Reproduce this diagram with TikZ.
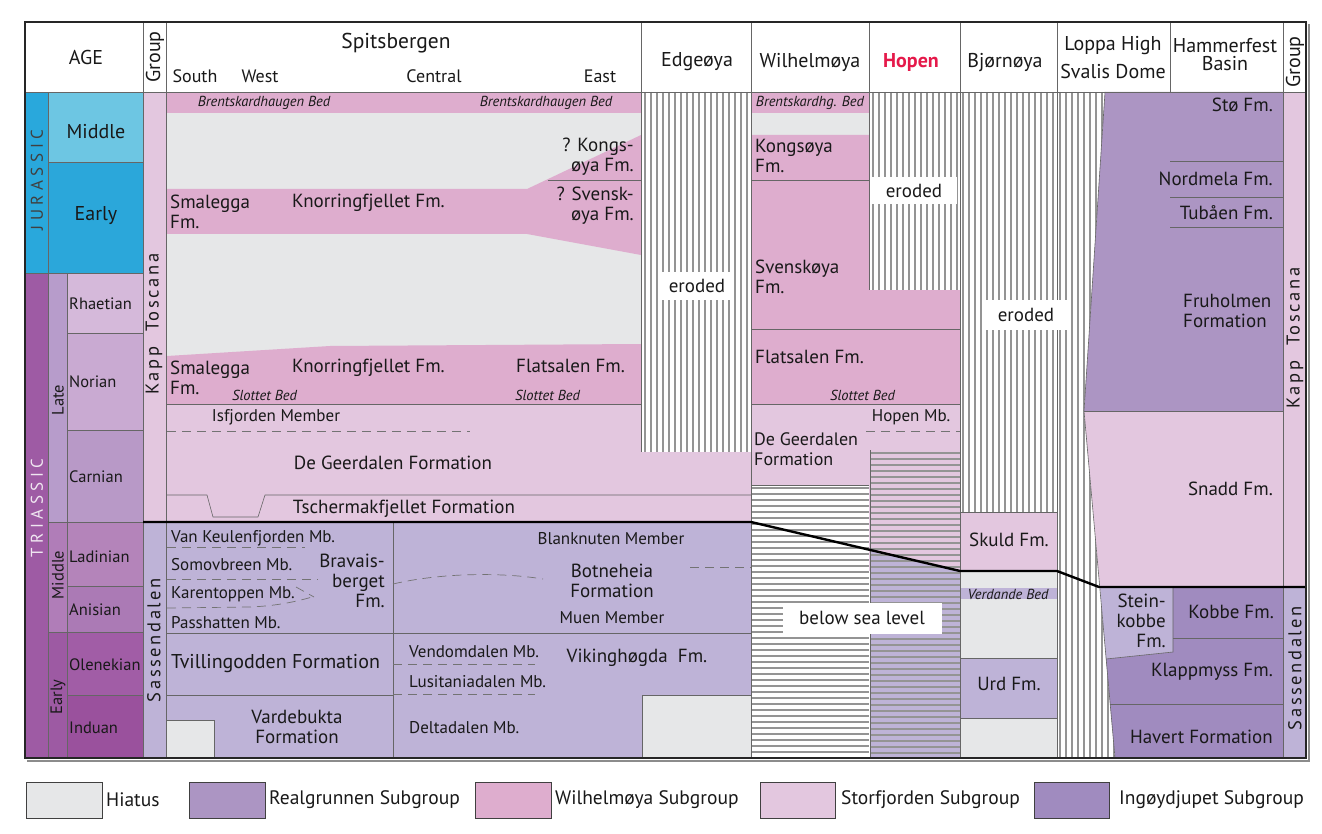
\documentclass[tikz,border=0pt]{standalone}
\usepackage{fontspec}
\setmainfont{PT Sans}
\newfontfamily\grpfont[LetterSpace=14]{PT Sans}
\definecolor{jurstrip}{HTML}{29A8DC}
\definecolor{jurmid}{HTML}{6DC6E3}
\definecolor{jurearly}{HTML}{2BA7DA}
\definecolor{tristrip}{HTML}{9E5BA4}
\definecolor{lateser}{HTML}{B79CCB}
\definecolor{rhae}{HTML}{D5B9DA}
\definecolor{nori}{HTML}{C9AAD2}
\definecolor{carn}{HTML}{B899C7}
\definecolor{midser}{HTML}{B07DB8}
\definecolor{ladi}{HTML}{B484BA}
\definecolor{anis}{HTML}{AB7AB5}
\definecolor{earlyser}{HTML}{9D5AA3}
\definecolor{olen}{HTML}{A15DA6}
\definecolor{indu}{HTML}{9A519D}
\definecolor{hiatus}{HTML}{E6E7E8}
\definecolor{realg}{HTML}{AC95C3}
\definecolor{wilhc}{HTML}{DEADCE}
\definecolor{storf}{HTML}{E3C7DF}
\definecolor{ingoy}{HTML}{A08BBF}
\definecolor{sass}{HTML}{BEB3D7}
\definecolor{hopenred}{HTML}{E5194A}
\tikzset{
  cell/.style={draw=black!60, line width=0.6pt},
  unit/.style={draw=black!60, line width=0.6pt},
  mbline/.style={draw=black!55, line width=0.7pt, dash pattern=on 9pt off 6pt},
  vhatch/.style={draw=black!42, line width=1.3pt},
  hhatch/.style={draw=black!42, line width=1.2pt},
  boundary/.style={draw=black, line width=2.4pt},
  key/.style={draw=black!75, line width=1pt},
  hdr/.style={font=\fontsize{20}{18}\selectfont, text=black!90},
  sub/.style={font=\fontsize{18}{20}\selectfont, text=black!90},
  stg/.style={font=\fontsize{16.5}{18}\selectfont, text=black!90},
  sys/.style={font=\fontsize{17}{18}\selectfont},
  grp/.style={font=\grpfont\fontsize{18.5}{20}\selectfont, text=black!90},
  fm/.style={font=\fontsize{19}{20}\selectfont, text=black!90},
  big/.style={font=\fontsize{20}{22}\selectfont, text=black!90},
  mb/.style={font=\fontsize{17}{19}\selectfont, text=black!90},
  bed/.style={font=\fontsize{14.5}{16}\selectfont\itshape, text=black!90},
  leg/.style={font=\fontsize{19.5}{21}\selectfont, text=black!90},
  erodebox/.style={fill=white, font=\fontsize{19}{20}\selectfont, text=black!90}
}
\begin{document}
\begin{tikzpicture}[x=1pt,y=-1pt]
\tikzstyle{every node}+=[inner sep=0pt]
\useasboundingbox (0,0) rectangle (1322,834);
\fill[white] (0,0) rectangle (1322,834);
\filldraw[cell, fill=jurstrip] (25,92) rectangle (48,273);
\filldraw[cell, fill=jurmid] (48,92) rectangle (143,162);
\filldraw[cell, fill=jurearly] (48,162) rectangle (143,273);
\filldraw[cell, fill=tristrip] (25,273) rectangle (48,758);
\filldraw[cell, fill=lateser] (48,273) rectangle (67,522);
\filldraw[cell, fill=rhae] (67,273) rectangle (143,333);
\filldraw[cell, fill=nori] (67,333) rectangle (143,430);
\filldraw[cell, fill=carn] (67,430) rectangle (143,522);
\filldraw[cell, fill=midser] (48,522) rectangle (67,632);
\filldraw[cell, fill=ladi] (67,522) rectangle (143,586);
\filldraw[cell, fill=anis] (67,586) rectangle (143,632);
\filldraw[cell, fill=earlyser] (48,632) rectangle (67,758);
\filldraw[cell, fill=olen] (67,632) rectangle (143,695);
\filldraw[cell, fill=indu] (67,695) rectangle (143,758);
\filldraw[cell, fill=storf] (143,92) rectangle (166,522);
\filldraw[cell, fill=sass] (143,522) rectangle (166,758);
\filldraw[cell, fill=storf] (1283,92) rectangle (1306,587);
\filldraw[cell, fill=sass] (1283,587) rectangle (1306,758);
\fill[hiatus] (167,92) rectangle (641,404);
\fill[wilhc] (167,92) rectangle (641,113);
\fill[wilhc] (167,189) -- (527,189) -- (641,135) -- (641,255) -- (527,234) -- (167,234) -- cycle;
\fill[wilhc] (167,356) -- (330,346) -- (641,344) -- (641,404) -- (167,404) -- cycle;
\fill[storf] (167,404) rectangle (751,522);
\fill[sass] (167,522) rectangle (751,758);
\fill[hiatus] (167,720) rectangle (214,758);
\fill[hiatus] (642,695) rectangle (751,758);
\fill[white] (642,92) rectangle (751,452);
\foreach \x in {645,651,...,750}
  \draw[vhatch] (\x,92) -- (\x,452);
\fill[wilhc] (752,92) rectangle (869,113);
\fill[hiatus] (752,113) rectangle (869,135);
\fill[wilhc] (752,135) -- (869,135) -- (869,290) -- (960,290) -- (960,404) -- (752,404) -- cycle;
\fill[white] (870,92) rectangle (960,290);
\foreach \x in {873,879,...,958}
  \draw[vhatch] (\x,92) -- (\x,290);
\fill[storf] (752,404) rectangle (960,571);
\fill[white] (752,485) rectangle (869,758);
\fill[sass] (870,550) -- (960,571) -- (960,758) -- (870,758) -- cycle;
\foreach \y in {488,494,...,756}
  \draw[hhatch] (752,\y) -- (869,\y);
\foreach \y in {453,459,...,756}
  \draw[hhatch] (870,\y) -- (960,\y);
\fill[white] (960,92) rectangle (1057,512);
\foreach \x in {963,969,...,1056}
  \draw[vhatch] (\x,92) -- (\x,512);
\fill[storf] (960,512) rectangle (1057,571);
\fill[hiatus] (960,571) rectangle (1057,758);
\fill[sass] (960,588) rectangle (1057,599);
\fill[sass] (960,658) rectangle (1057,718);
\begin{scope}
\clip (1057,92) -- (1105,92) -- (1084,411) -- (1115,758) -- (1057,758) -- cycle;
\fill[white] (1057,92) rectangle (1120,758);
\foreach \x in {1060,1066,...,1116}
  \draw[vhatch] (\x,92) -- (\x,758);
\end{scope}
\fill[realg] (1105,92) -- (1283,92) -- (1283,411) -- (1084,411) -- cycle;
\fill[storf] (1084,411) -- (1283,411) -- (1283,587) -- (1100,587) -- cycle;
\fill[sass] (1100,587) -- (1173,587) -- (1173,652) -- (1106,659) -- cycle;
\fill[ingoy] (1173,587) -- (1283,587) -- (1283,758) -- (1115,758) -- (1106,659) -- (1173,652) -- cycle;
\draw[unit] (548,180) -- (641,180);
\draw[unit] (167,404) -- (641,404);
\draw[mbline] (167,431) -- (470,431);
\draw[unit] (167,495) -- (207,495) -- (213,517) -- (258,517) -- (265,495) -- (751,495);
\draw[unit] (393,522) -- (393,758);
\draw[unit] (167,633) -- (751,633);
\draw[unit] (167,695) -- (393,695);
\draw[unit] (167,720) -- (214,720) -- (214,758);
\draw[unit] (642,758) -- (642,695) -- (751,695);
\draw[mbline] (167,547) -- (305,547);
\draw[mbline] (167,579) -- (318,579);
\draw[mbline] (167,608) -- (250,607) .. controls (275,606) and (295,602) .. (312,597);
\draw[mbline] (296,587) -- (314,597);
\draw[mbline] (393,584) .. controls (440,573) and (500,572) .. (543,579);
\draw[mbline] (690,567) -- (751,567);
\draw[mbline] (393,664) -- (535,664);
\draw[mbline] (393,694) -- (535,694);
\draw[unit] (752,180) -- (869,180);
\draw[unit] (752,329) -- (960,329);
\draw[unit] (752,404) -- (960,404);
\draw[unit] (752,485) -- (869,485);
\draw[mbline] (866,431) -- (960,431);
\draw[unit] (870,450) -- (870,758);
\draw[unit] (960,512) -- (1057,512);
\draw[unit] (960,658) -- (1057,658);
\draw[unit] (960,718) -- (1057,718);
\draw[unit] (1170,161) -- (1283,161);
\draw[unit] (1170,197) -- (1283,197);
\draw[unit] (1170,227) -- (1283,227);
\draw[unit] (1084,411) -- (1283,411);
\draw[unit] (1173,587) -- (1173,652) -- (1106,659);
\draw[unit] (1173,638) -- (1283,638);
\draw[unit] (1110,704) -- (1283,704);
\draw[unit] (1105,92) -- (1084,411) -- (1115,758);
\draw[unit] (143,22) -- (143,92);
\draw[unit] (166,22) -- (166,758);
\draw[unit] (641,22) -- (641,452);
\draw[unit] (751.5,22) -- (751.5,758);
\draw[unit] (869,22) -- (869,290);
\draw[unit] (960,22) -- (960,758);
\draw[unit] (1057,22) -- (1057,758);
\draw[unit] (1170,22) -- (1170,92);
\draw[unit] (1283,22) -- (1283,758);
\draw[unit] (25,92) -- (1306,92);
\draw[boundary] (143,522) -- (751,522) -- (960,571) -- (1057,571) -- (1099,587) -- (1306,587);
\draw[black!45, line width=2pt] (27,760.5) -- (1308.5,760.5) -- (1308.5,24);
\draw[black!85, line width=1.6pt] (25,22) rectangle (1306,758);
\node[hdr] (age) at (86,58) {AGE};
\node[hdr, rotate=90] (grpL) at (155,57) {Group};
\node[font=\fontsize{21.5}{23}\selectfont, text=black!90] (spits) at (396,43) {Spitsbergen};
\node[sub] (south) at (195,76) {South};
\node[sub] (west) at (260,76) {West};
\node[sub] (central) at (434,76) {Central};
\node[sub] (east) at (600,76) {East};
\node[hdr] (edge) at (697,62) {Edgeøya};
\node[hdr] (wilh) at (810,62) {Wilhelmøya};
\node[hdr, font=\fontsize{20}{18}\selectfont\bfseries, text=hopenred] (hopen) at (911,63) {Hopen};
\node[hdr] (bjorn) at (1005,63) {Bjørnøya};
\node[hdr] (loppa) at (1113,46) {Loppa High};
\node[hdr] (svalis) at (1113,72) {Svalis Dome};
\node[hdr, align=center] (hammer) at (1225,55) {Hammerfest\\Basin};
\node[hdr, rotate=90] (grpR) at (1295,62) {Group};
\node[sys, rotate=90, text=black!75] (jur) at (37,180) {J U R A S S I C};
\node[sys, rotate=90, text=white!85!tristrip] (tri) at (37,508) {T R I A S S I C};
\node[hdr] (jmid) at (96,132) {Middle};
\node[hdr] (jearly) at (96,216) {Early};
\node[stg, rotate=90] (late) at (58,400) {Late};
\node[stg, rotate=90] (tmid) at (58,575) {Middle};
\node[stg, rotate=90] (tearly) at (58,697) {Early};
\node[stg, anchor=west] (rhaet) at (69,304) {Rhaetian};
\node[stg, anchor=west] (norian) at (69,382) {Norian};
\node[stg, anchor=west] (carnian) at (69,477) {Carnian};
\node[stg, anchor=west] (ladinian) at (69,557) {Ladinian};
\node[stg, anchor=west] (anisian) at (69,610) {Anisian};
\node[stg, anchor=west] (olenek) at (69,665) {Olenekian};
\node[stg, anchor=west] (induan) at (69,728) {Induan};
\node[grp, rotate=90] (ktL) at (154,324) {Kapp\ \ Toscana};
\node[grp, rotate=90] (sassL) at (154,640) {Sassendalen};
\node[grp, rotate=90] (ktR) at (1295,338) {Kapp\ \ Toscana};
\node[grp, rotate=90] (sassR) at (1295,668) {Sassendalen};
\node[bed] (brent1) at (264,103) {Brentskardhaugen Bed};
\node[bed] (brent2) at (546,103) {Brentskardhaugen Bed};
\node[fm, anchor=west, align=left] (smal1) at (170,212) {Smalegga\\Fm.};
\node[fm, anchor=west] (knor1) at (292,203) {Knorringfjellet Fm.};
\node[fm, anchor=east, align=right] (kong1) at (634,157) {? Kongs-\\øya Fm.};
\node[fm, anchor=east, align=right] (sven1) at (634,206) {? Svensk-\\øya Fm.};
\node[fm, anchor=west, align=left] (smal2) at (170,378) {Smalegga\\Fm.};
\node[fm, anchor=west] (knor2) at (292,368) {Knorringfjellet Fm.};
\node[bed, anchor=west] (slot1) at (232,395) {Slottet Bed};
\node[fm, anchor=west] (flat1) at (516,366) {Flatsalen Fm.};
\node[bed, anchor=west] (slot2) at (515,395) {Slottet Bed};
\node[mb] (isf) at (276,417) {Isfjorden Member};
\node[fm] (dege1) at (393,463) {De Geerdalen Formation};
\node[fm] (tsch) at (404,509) {Tschermakfjellet Formation};
\node[mb, anchor=west] (vank) at (171,538) {Van Keulenfjorden Mb.};
\node[mb, anchor=west] (somo) at (171,565) {Somovbreen Mb.};
\node[mb, anchor=west] (kare) at (171,594) {Karentoppen Mb.};
\node[mb, anchor=west] (pass) at (171,623) {Passhatten Mb.};
\node[fm, anchor=east, align=right] (brav) at (385,581) {Bravais-\\berget\\Fm.};
\node[big, anchor=west] (tvil) at (171,664) {Tvillingodden Formation};
\node[fm, align=center] (vard) at (297,727) {Vardebukta\\Formation};
\node[mb] (blan) at (611,539) {Blanknuten Member};
\node[fm, align=center] (botn) at (612,581) {Botneheia\\Formation};
\node[mb] (muen) at (612,618) {Muen Member};
\node[mb, anchor=west] (vend) at (409,652) {Vendomdalen Mb.};
\node[mb, anchor=west] (lusi) at (409,682) {Lusitaniadalen Mb.};
\node[fm] (vikn) at (637,658) {Vikinghøgda\ \ Fm.};
\node[mb, anchor=west] (delt) at (409,728) {Deltadalen Mb.};
\node[erodebox, minimum width=72pt, minimum height=28pt] (ero1) at (697,286) {eroded};
\node[bed] (brent3) at (810,103) {Brentskardhg. Bed};
\node[fm, anchor=west, align=left] (kong2) at (755,156) {Kongsøya\\Fm.};
\node[fm, anchor=west, align=left] (sven2) at (755,277) {Svenskøya\\Fm.};
\node[fm, anchor=west] (flat2) at (755,357) {Flatsalen Fm.};
\node[bed, anchor=west] (slot3) at (830,395) {Slottet Bed};
\node[mb] (hopmb) at (911,417) {Hopen Mb.};
\node[fm, font=\fontsize{18}{20}\selectfont, anchor=west, align=left] (dege2) at (754,449) {De Geerdalen\\Formation};
\node[erodebox, minimum width=159pt, minimum height=31pt] (sea) at (862,618) {below sea level};
\node[erodebox, minimum width=86pt, minimum height=27pt] (ero2) at (914,191) {eroded};
\node[erodebox, minimum width=82pt, minimum height=30pt] (ero3) at (1026,315) {eroded};
\node[fm] (skul) at (1009,540) {Skuld Fm.};
\node[bed] (verd) at (1008,594) {Verdande Bed};
\node[fm] (urd) at (1009,684) {Urd Fm.};
\node[fm, anchor=east] (sto) at (1273,105) {Stø Fm.};
\node[fm, anchor=east] (nord) at (1273,179) {Nordmela Fm.};
\node[fm, anchor=east] (tuba) at (1273,213) {Tubåen Fm.};
\node[fm, anchor=west, align=left] (fruh) at (1183,311) {Fruholmen\\Formation};
\node[fm, anchor=east] (snad) at (1273,489) {Snadd Fm.};
\node[fm, anchor=east, align=right] (stei) at (1166,621) {Stein-\\kobbe\\Fm.};
\node[fm, anchor=east] (kobb) at (1274,612) {Kobbe Fm.};
\node[fm, anchor=east] (klap) at (1273,672) {Klappmyss Fm.};
\node[fm, anchor=east] (have) at (1273,737) {Havert Formation};
\filldraw[key, fill=hiatus] (26,782) rectangle (102,818);
\node[leg, anchor=west] (lhia) at (106,800) {Hiatus};
\filldraw[key, fill=realg] (189,782) rectangle (265,818);
\node[leg, anchor=west] (lrea) at (269,800) {Realgrunnen Subgroup};
\filldraw[key, fill=wilhc] (475,782) rectangle (551,818);
\node[leg, anchor=west] (lwil) at (555,800) {Wilhelmøya Subgroup};
\filldraw[key, fill=storf] (760,782) rectangle (835,818);
\node[leg, anchor=west] (lsto) at (841,800) {Storfjorden Subgroup};
\filldraw[key, fill=ingoy] (1034,782) rectangle (1109,818);
\node[leg, anchor=west] (ling) at (1119,800) {Ingøydjupet Subgroup};
\end{tikzpicture}
\end{document}
